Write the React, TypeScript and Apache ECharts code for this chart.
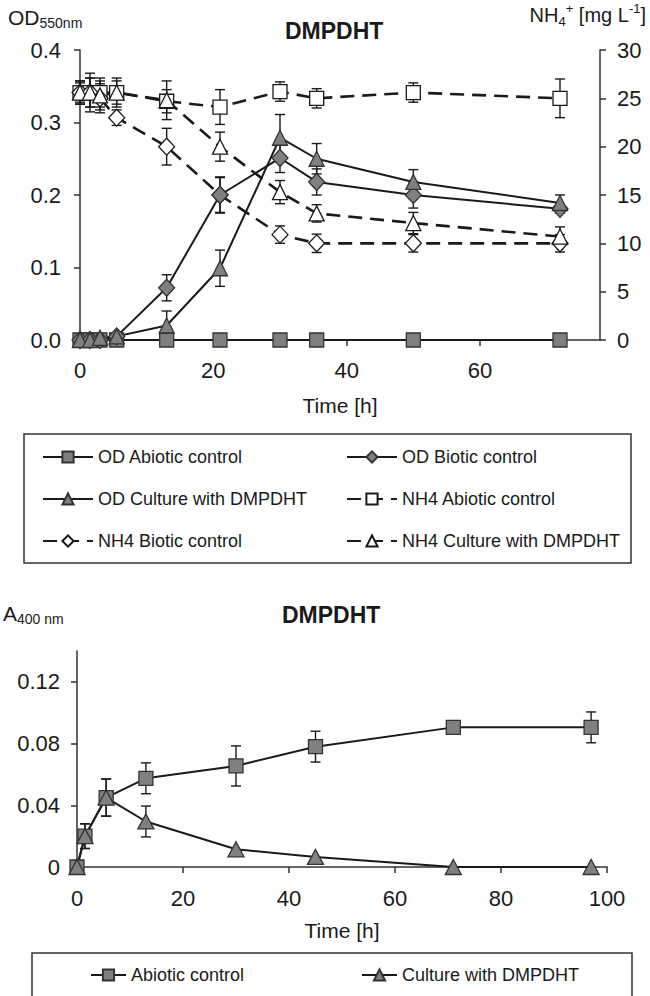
import React, { useEffect, useRef } from "react";
import * as echarts from "echarts";

// ---------- Top chart data ----------
const timeTop = [0, 1.5, 3, 5.5, 13, 21, 30, 35.5, 50, 72];
const odAbiotic = [0, 0, 0, 0, 0, 0, 0, 0, 0, 0];
const odBiotic = [0, 0, 0, 0.005, 0.072, 0.2, 0.251, 0.218, 0.2, 0.181];
const odBioticErr = [0, 0, 0, 0, 0.018, 0.025, 0.02, 0.018, 0.018, 0.006];
const odCulture = [0, 0, 0.003, 0.005, 0.02, 0.099, 0.279, 0.25, 0.218, 0.189];
const odCultureErr = [0, 0, 0, 0, 0.02, 0.025, 0.032, 0.021, 0.017, 0.011];
const nh4Abiotic = [25.6, 25.6, 25.6, 25.6, 24.7, 24.1, 25.7, 25.0, 25.6, 25.0];
const nh4AbioticErr = [1.2, 2.0, 1.5, 1.2, 1.2, 1.8, 1.0, 1.0, 1.0, 2.0];
const nh4Biotic = [25.6, 25.6, 25.0, 23.0, 20.0, 15.0, 10.9, 10.0, 10.0, 10.0];
const nh4BioticErr = [1.0, 1.5, 1.5, 0.8, 1.9, 1.8, 0.9, 0.95, 0.9, 0.9];
const nh4Culture = [25.6, 25.6, 25.3, 25.6, 24.8, 20.0, 15.3, 13.1, 12.1, 10.7];
const nh4CultureErr = [1.2, 1.5, 1.5, 1.5, 2.0, 1.5, 1.2, 0.9, 1.1, 1.0];
const topXTicks = [0, 20, 40, 60];

// ---------- Bottom chart data ----------
const timeBottom = [0, 1.5, 5.5, 13, 30, 45, 71, 97];
const a400Abiotic = [0, 0.02, 0.045, 0.0575, 0.0655, 0.078, 0.0905, 0.0905];
const a400AbioticErr = [0, 0.008, 0.012, 0.01, 0.013, 0.01, 0, 0.01];
const a400Culture = [0, 0.02, 0.045, 0.0295, 0.0115, 0.0065, 0, 0];
const a400CultureErr = [0, 0.008, 0.012, 0.01, 0, 0, 0, 0];
const bottomYTicks = [0, 0.04, 0.08, 0.12];

const FONT = '"Liberation Sans", Arial, Helvetica, sans-serif';
const INK = "#1a1a1a";
const AXIS = "#333333";
const GRAY = "#808080";

function pairs(t: number[], v: number[]) {
  return t.map((x, i) => [x, v[i]]);
}
function errData(t: number[], v: number[], e: number[]) {
  return t.map((x, i) => [x, v[i], e[i]]).filter((d) => d[2] > 0);
}

function errSeries(data: number[][], xi: number, yi: number) {
  return {
    type: "custom",
    xAxisIndex: xi,
    yAxisIndex: yi,
    silent: true,
    z: 2,
    clip: false,
    encode: { x: 0, y: 1 },
    data,
    renderItem: (params: any, api: any) => {
      const x = api.value(0);
      const y = api.value(1);
      const e = api.value(2);
      const top = api.coord([x, y + e]);
      const bot = api.coord([x, y - e]);
      const s = { stroke: INK, lineWidth: 1.4 };
      return {
        type: "group",
        children: [
          { type: "line", shape: { x1: top[0], y1: top[1], x2: bot[0], y2: bot[1] }, style: s },
          { type: "line", shape: { x1: top[0] - 5, y1: top[1], x2: top[0] + 5, y2: top[1] }, style: s },
          { type: "line", shape: { x1: bot[0] - 5, y1: bot[1], x2: bot[0] + 5, y2: bot[1] }, style: s },
        ],
      };
    },
  };
}

function lineSeries(
  name: string,
  data: number[][],
  xi: number,
  yi: number,
  symbol: string,
  size: any,
  filled: boolean,
  dashed: boolean
) {
  return {
    type: "line",
    name,
    data,
    xAxisIndex: xi,
    yAxisIndex: yi,
    symbol,
    symbolSize: size,
    showAllSymbol: true,
    z: 3,
    lineStyle: dashed
      ? { color: INK, width: 2.6, type: [14, 8] }
      : { color: INK, width: 2 },
    itemStyle: {
      color: filled ? GRAY : "#ffffff",
      borderColor: filled ? "#333333" : INK,
      borderWidth: 1.3,
      opacity: 1,
    },
  };
}

export default function App() {
  const ref = useRef<HTMLDivElement>(null);

  useEffect(() => {
    if (!ref.current) return;
    const chart = echarts.init(ref.current, undefined, { renderer: "svg" });

    const labelStyle = { fontFamily: FONT, fontSize: 22, color: INK };
    const axisLine = { show: true, onZero: false, lineStyle: { color: AXIS, width: 1.5 } };
    const axisTick = { show: true, length: 6, lineStyle: { color: AXIS, width: 1.5 } };
    const legendText = { fontFamily: FONT, fontSize: 18, color: INK, lineHeight: 20 };
    const titleStyle = { fontFamily: FONT, fontSize: 23, fontWeight: "bold", color: INK };

    const option: any = {
      animation: false,
      backgroundColor: "#ffffff",
      title: [
        { text: "DMPDHT", left: 285, top: 19, padding: 0, textStyle: titleStyle },
        { text: "DMPDHT", left: 282, top: 603, padding: 0, textStyle: titleStyle },
      ],
      grid: [
        { left: 80, top: 50, width: 520, height: 290, containLabel: false },
        { left: 77, top: 651, width: 530, height: 216, containLabel: false },
      ],
      xAxis: [
        {
          type: "value",
          gridIndex: 0,
          min: 0,
          max: 78,
          interval: 20,
          name: "Time [h]",
          nameLocation: "middle",
          nameGap: 55,
          nameTextStyle: { fontFamily: FONT, fontSize: 21, color: INK },
          axisLine,
          axisTick: { ...axisTick, customValues: topXTicks },
          axisLabel: { ...labelStyle, margin: 19, customValues: topXTicks },
          splitLine: { show: false },
        },
        {
          type: "value",
          gridIndex: 1,
          min: 0,
          max: 100,
          interval: 20,
          name: "Time [h]",
          nameLocation: "middle",
          nameGap: 53,
          nameTextStyle: { fontFamily: FONT, fontSize: 21, color: INK },
          axisLine,
          axisTick,
          axisLabel: { ...labelStyle, margin: 20 },
          splitLine: { show: false },
        },
      ],
      yAxis: [
        {
          type: "value",
          gridIndex: 0,
          min: 0,
          max: 0.4,
          interval: 0.1,
          axisLine,
          axisTick,
          axisLabel: { ...labelStyle, margin: 19, formatter: (v: number) => v.toFixed(1) },
          splitLine: { show: false },
        },
        {
          type: "value",
          gridIndex: 0,
          position: "right",
          min: 0,
          max: 30,
          interval: 5,
          axisLine,
          axisTick,
          axisLabel: { ...labelStyle, margin: 17 },
          splitLine: { show: false },
        },
        {
          type: "value",
          gridIndex: 1,
          min: 0,
          max: 0.14,
          interval: 0.04,
          axisLine,
          axisTick: { ...axisTick, customValues: bottomYTicks },
          axisLabel: {
            ...labelStyle,
            margin: 17,
            customValues: bottomYTicks,
            formatter: (v: number) => (v === 0 ? "0" : String(Math.round(v * 100) / 100)),
          },
          splitLine: { show: false },
        },
      ],
      legend: [
        {
          orient: "vertical",
          left: 42,
          top: 447,
          padding: 0,
          itemWidth: 50,
          itemHeight: 14,
          itemGap: 22,
          selectedMode: false,
          textStyle: legendText,
          data: ["OD Abiotic control", "OD Culture with DMPDHT", "NH4 Biotic control"],
        },
        {
          orient: "vertical",
          left: 346,
          top: 447,
          padding: 0,
          itemWidth: 50,
          itemHeight: 14,
          itemGap: 22,
          selectedMode: false,
          textStyle: legendText,
          data: ["OD Biotic control", "NH4 Abiotic control", "NH4 Culture with DMPDHT"],
        },
        {
          left: 90,
          top: 965,
          padding: 0,
          itemWidth: 35,
          itemHeight: 14,
          selectedMode: false,
          textStyle: legendText,
          data: ["Abiotic control"],
        },
        {
          left: 361,
          top: 965,
          padding: 0,
          itemWidth: 35,
          itemHeight: 14,
          selectedMode: false,
          textStyle: legendText,
          data: ["Culture with DMPDHT"],
        },
      ],
      graphic: [
        {
          type: "rect",
          shape: { x: 24, y: 434, width: 607, height: 129 },
          style: { fill: "none", stroke: AXIS, lineWidth: 1.5 },
          silent: true,
        },
        {
          type: "rect",
          shape: { x: 32, y: 953, width: 600, height: 80 },
          style: { fill: "none", stroke: AXIS, lineWidth: 1.5 },
          silent: true,
        },
        {
          type: "text",
          x: 8,
          y: 4,
          style: {
            text: "{a|OD}{b|550nm}",
            fill: INK,
            rich: {
              a: { fontFamily: FONT, fontSize: 21, lineHeight: 26, fill: INK },
              b: { fontFamily: FONT, fontSize: 14, lineHeight: 13, verticalAlign: "bottom", fill: INK },
            },
          },
        },
        {
          type: "text",
          x: 646,
          y: 2,
          style: {
            text: "{a|NH}{b|4}{c|+}{a| [mg L}{c|-1}{a|]}",
            align: "right",
            fill: INK,
            rich: {
              a: { fontFamily: FONT, fontSize: 20, lineHeight: 26, fill: INK },
              b: { fontFamily: FONT, fontSize: 13, lineHeight: 13, verticalAlign: "bottom", fill: INK },
              c: { fontFamily: FONT, fontSize: 13, lineHeight: 13, verticalAlign: "top", fill: INK },
            },
          },
        },
        {
          type: "text",
          x: 3,
          y: 600,
          style: {
            text: "{a|A}{b|400 nm}",
            fill: INK,
            rich: {
              a: { fontFamily: FONT, fontSize: 21, lineHeight: 26, fill: INK },
              b: { fontFamily: FONT, fontSize: 14, lineHeight: 13, verticalAlign: "bottom", fill: INK },
            },
          },
        },
      ],
      series: [
        // error bars (behind markers)
        errSeries(errData(timeTop, nh4Abiotic, nh4AbioticErr), 0, 1),
        errSeries(errData(timeTop, nh4Biotic, nh4BioticErr), 0, 1),
        errSeries(errData(timeTop, nh4Culture, nh4CultureErr), 0, 1),
        errSeries(errData(timeTop, odBiotic, odBioticErr), 0, 0),
        errSeries(errData(timeTop, odCulture, odCultureErr), 0, 0),
        errSeries(errData(timeBottom, a400Abiotic, a400AbioticErr), 1, 2),
        errSeries(errData(timeBottom, a400Culture, a400CultureErr), 1, 2),
        // top chart
        lineSeries("NH4 Abiotic control", pairs(timeTop, nh4Abiotic), 0, 1, "rect", [14, 14], false, true),
        lineSeries("NH4 Biotic control", pairs(timeTop, nh4Biotic), 0, 1, "diamond", [16, 17], false, true),
        lineSeries("NH4 Culture with DMPDHT", pairs(timeTop, nh4Culture), 0, 1, "triangle", [15, 15], false, true),
        lineSeries("OD Abiotic control", pairs(timeTop, odAbiotic), 0, 0, "rect", [14, 14], true, false),
        lineSeries("OD Biotic control", pairs(timeTop, odBiotic), 0, 0, "diamond", [16, 17], true, false),
        lineSeries("OD Culture with DMPDHT", pairs(timeTop, odCulture), 0, 0, "triangle", [15, 15], true, false),
        // bottom chart
        lineSeries("Abiotic control", pairs(timeBottom, a400Abiotic), 1, 2, "rect", [14, 14], true, false),
        lineSeries("Culture with DMPDHT", pairs(timeBottom, a400Culture), 1, 2, "triangle", [16, 15], true, false),
      ],
    };

    chart.setOption(option);
    return () => chart.dispose();
  }, []);

  return (
    <div
      ref={ref}
      style={{ position: "absolute", left: 0, top: 0, width: 650, height: 996, background: "#fff" }}
    />
  );
}
